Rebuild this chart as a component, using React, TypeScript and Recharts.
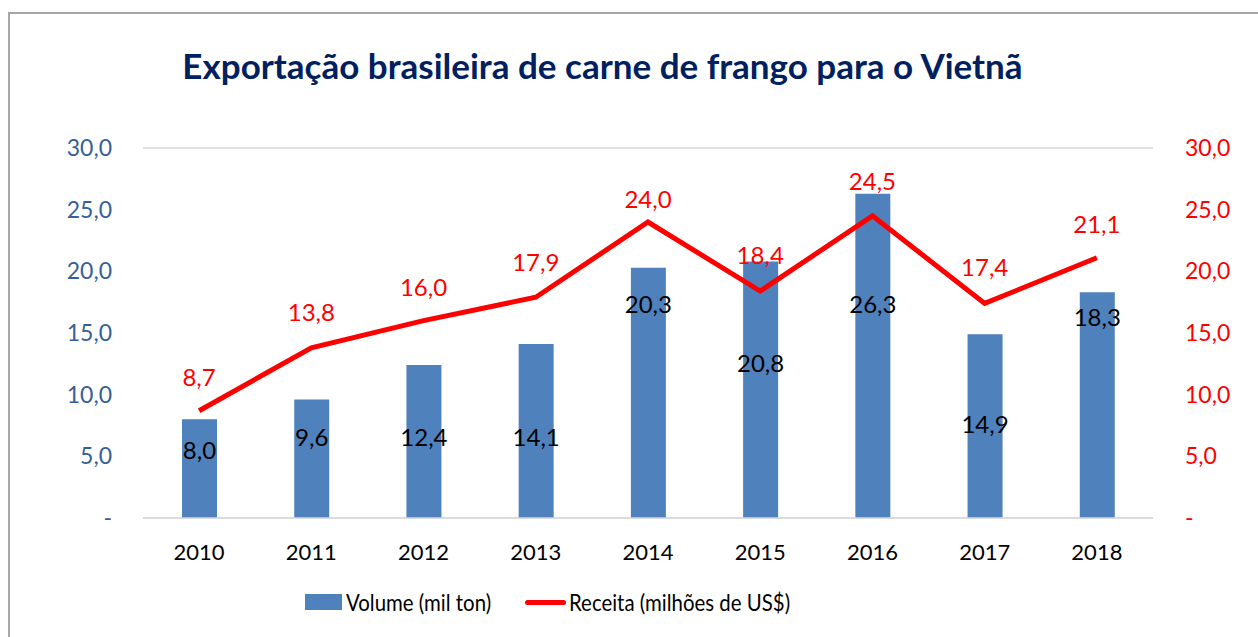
import React from 'react';
import { ComposedChart, Bar, Line, XAxis, YAxis, CartesianGrid, LabelList } from 'recharts';

const years = ['2010', '2011', '2012', '2013', '2014', '2015', '2016', '2017', '2018'];
const volume = [8.0, 9.6, 12.4, 14.1, 20.3, 20.8, 26.3, 14.9, 18.3];
const receita = [8.7, 13.8, 16.0, 17.9, 24.0, 18.4, 24.5, 17.4, 21.1];
const axisTicks = [0, 5, 10, 15, 20, 25, 30];

// label offsets (px from the mark) as placed in the original
const volumeLabelDy = [32, 38, 73, 94, 37, 103, 111, 91, 26];
const receitaLabelDy = [-33, -35, -33, -34, -22, -35, -34, -35, -33];

const data = years.map((y, i) => ({ year: y, volume: volume[i], receita: receita[i] }));

const fmt = (v: number) => (v === 0 ? '-' : v.toFixed(1).replace('.', ','));
const FONT = 'Lato, "Open Sans", sans-serif';

const VolLabel = (props: any) => {
  const { x, y, width, index, value } = props;
  return (
    <text x={x + width / 2} y={y + volumeLabelDy[index]} dy={8} textAnchor="middle" fill="#000" fontSize={24} fontFamily={FONT}>
      {fmt(value)}
    </text>
  );
};

const RecLabel = (props: any) => {
  const { x, y, index, value } = props;
  return (
    <text x={x} y={y + receitaLabelDy[index]} dy={8} textAnchor="middle" fill="#FF0000" fontSize={24} fontFamily={FONT}>
      {fmt(value)}
    </text>
  );
};

export default function App() {
  return (
    <div style={{ position: 'absolute', left: 0, top: 0, width: 1258, height: 637, background: '#fff', overflow: 'hidden', fontFamily: FONT }}>
      <div style={{ position: 'absolute', left: 8, top: 12, width: 1300, height: 700, borderLeft: '2px solid #A6A6A6', borderTop: '2px solid #A6A6A6' }} />
      <div style={{ position: 'absolute', left: 0, top: 44, width: 1205, textAlign: 'center', fontSize: 35, lineHeight: '42px', fontWeight: 700, color: '#002060', fontFamily: FONT }}>
        Exportação brasileira de carne de frango para o Vietnã
      </div>
      <div style={{ position: 'absolute', left: 0, top: 0 }}>
        <ComposedChart width={1258} height={637} data={data} margin={{ top: 148, right: 0, bottom: 69, left: 0 }}>
          <CartesianGrid vertical={false} stroke="#D9D9D9" strokeWidth={1.5} />
          <XAxis dataKey="year" axisLine={{ stroke: '#D9D9D9', strokeWidth: 1.5 }} tickLine={false} height={50} tickMargin={20}
            tick={{ fill: '#000', fontSize: 22, fontFamily: FONT }} />
          <YAxis yAxisId="left" orientation="left" domain={[0, 30]} ticks={axisTicks} tickFormatter={fmt} width={143}
            axisLine={false} tickLine={false} tickMargin={25} tick={{ fill: '#35609A', fontSize: 23, fontFamily: FONT }} />
          <YAxis yAxisId="right" orientation="right" domain={[0, 30]} ticks={axisTicks} tickFormatter={fmt} width={105}
            axisLine={false} tickLine={false} tickMargin={26} tick={{ fill: '#FF0000', fontSize: 23, fontFamily: FONT }} />
          <Bar yAxisId="left" dataKey="volume" fill="#4F81BD" barSize={35} isAnimationActive={false}>
            <LabelList dataKey="volume" content={VolLabel} />
          </Bar>
          <Line yAxisId="right" dataKey="receita" stroke="#FF0000" strokeWidth={5} dot={false} isAnimationActive={false} strokeLinejoin="miter">
            <LabelList dataKey="receita" content={RecLabel} />
          </Line>
        </ComposedChart>
      </div>
      <div style={{ position: 'absolute', left: 305, top: 586, height: 32, display: 'flex', alignItems: 'center', color: '#000', fontFamily: FONT }}>
        <span style={{ display: 'inline-block', width: 37, height: 16, background: '#4F81BD', marginRight: 4 }} />
        <span style={{ display: 'inline-block', width: 144, fontSize: 24, lineHeight: '32px', whiteSpace: 'nowrap' }}>
          <span style={{ display: 'inline-block', transform: 'scaleX(0.85)', transformOrigin: 'left center' }}>Volume (mil ton)</span>
        </span>
        <span style={{ display: 'inline-block', width: 41, height: 5, borderRadius: 3, background: '#FF0000', marginLeft: 35, marginRight: 3 }} />
        <span style={{ display: 'inline-block', width: 214, fontSize: 24, lineHeight: '32px', whiteSpace: 'nowrap' }}>
          <span style={{ display: 'inline-block', transform: 'scaleX(0.85)', transformOrigin: 'left center' }}>Receita (milhões de US$)</span>
        </span>
      </div>
    </div>
  );
}
